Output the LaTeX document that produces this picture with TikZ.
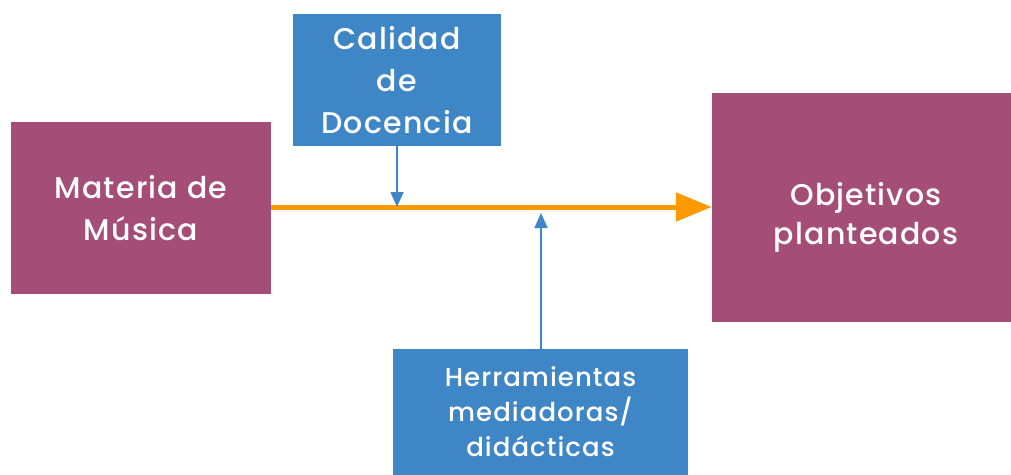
\documentclass[tikz,border=0pt]{standalone}
\usepackage{fontspec}
\setmainfont{Poppins Medium}[LetterSpace=4]
\usetikzlibrary{arrows.meta}
\definecolor{boxpurple}{RGB}{164,77,118}
\definecolor{boxblue}{RGB}{63,134,199}
\definecolor{flowline}{RGB}{255,153,0}
\tikzset{
  mainbox/.style={fill=boxpurple,draw=none,text=white,align=center,
    font=\fontsize{30}{42}\selectfont,inner sep=0pt},
  sidebox/.style={fill=boxblue,draw=none,text=white,align=center,
    font=\fontsize{30}{42}\selectfont,inner sep=0pt},
  boxtext/.style={text=white,align=center,inner sep=0pt},
  influence/.style={boxblue,line width=1.6pt,-{Triangle[length=15pt,width=13pt]}},
  flow/.style={flowline,line width=5pt,-{Triangle[length=36pt,width=28pt]}}
}
\begin{document}
\begin{tikzpicture}[x=1pt,y=-1pt]
            \useasboundingbox (0,0) rectangle (1011,474);
            \node[mainbox,minimum width=260,minimum height=172] (materia) at (141,208){Materia de\\Música};
            \node[mainbox,minimum width=299,minimum height=229] (objetivos) at (861.5,207.5){};
            \node[boxtext,font=\fontsize{30}{39}\selectfont] (objetivostxt) at (866,217){Objetivos\\planteados};
            \node[sidebox,minimum width=208,minimum height=132] (calidad) at (397,80){Calidad\\de\\Docencia};
            \node[sidebox,minimum width=295,minimum height=126,font=\fontsize{26}{35}\selectfont] (herramientas) at (540.5,412){Herramientas\\mediadoras/\\didácticas};

            \coordinate (hit1) at (397,207);
            \coordinate (hit2) at (541,213);
            \draw[flow](materia.east |- 0,207) -- (objetivos.west |- 0,207);
            \draw[influence](calidad.south) -- (hit1);
            \draw[influence](herramientas.north -| hit2) -- (hit2);
        \end{tikzpicture}
\end{document}
